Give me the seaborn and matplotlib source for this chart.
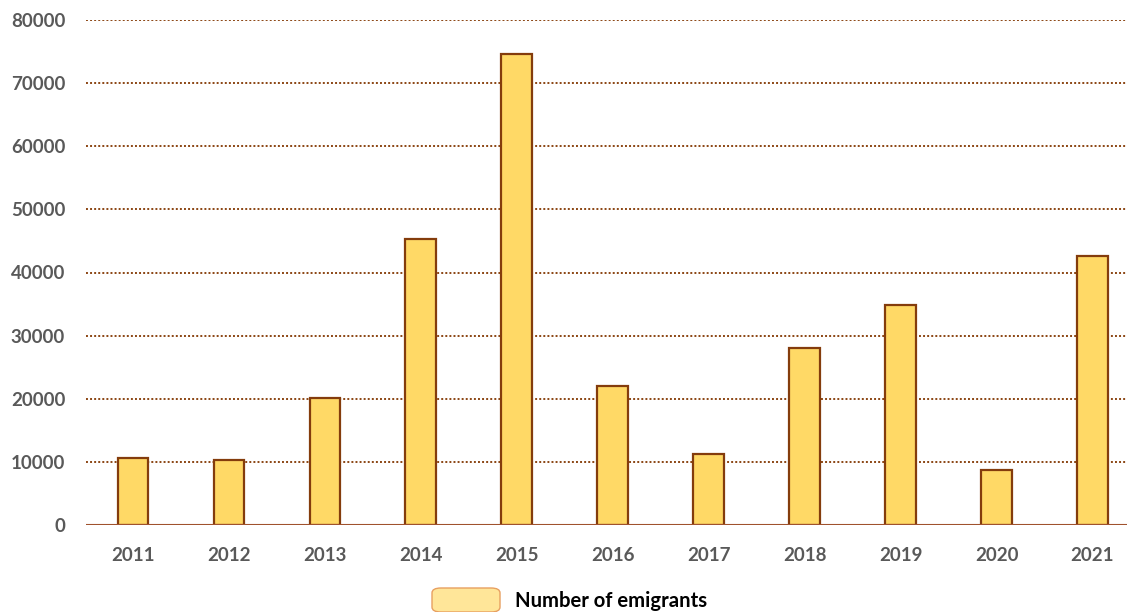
import matplotlib
matplotlib.use("Agg")
import matplotlib.pyplot as plt
import seaborn as sns
import pandas as pd
from matplotlib.patches import FancyBboxPatch

years = ["2011", "2012", "2013", "2014", "2015", "2016", "2017", "2018", "2019", "2020", "2021"]
emigrants = [10600, 10300, 20100, 45300, 74600, 22000, 11250, 28000, 34850, 8700, 42600]
yticks = [0, 10000, 20000, 30000, 40000, 50000, 60000, 70000, 80000]
series_name = "Number of emigrants"

sns.set_theme(style="white")
plt.rcParams['font.family'] = ['Lato', 'DejaVu Sans']

W, H = 1127, 612
fig = plt.figure(figsize=(W / 100, H / 100), dpi=100)
ax = fig.add_axes([86 / W, 1 - 525 / H, (W - 86) / W, (525 - 20) / H])

df = pd.DataFrame({"year": years, "value": emigrants})
sns.barplot(data=df, x="year", y="value", ax=ax, color="#FFD966", width=0.32,
            edgecolor="#843C0C", linewidth=1.6, saturation=1, zorder=3)

ax.set_ylim(0, 80000)
ax.set_xlim(-0.49, 10.36)
ax.set_yticks(yticks)
ax.set_yticklabels([str(v) for v in yticks])
for v in yticks[1:]:
    ax.axhline(v, color="#8B4513", linestyle=(0, (1, 1.1)), linewidth=1.4, zorder=1)
ax.axhline(0, color="#A0522D", linewidth=1.5, zorder=4)

for s in ax.spines.values():
    s.set_visible(False)
ax.set_xlabel("")
ax.set_ylabel("")
ax.tick_params(axis="both", length=0, labelsize=13.5, colors="#595959")
ax.tick_params(axis="y", pad=15)
ax.tick_params(axis="x", pad=16)
for lab in ax.get_xticklabels() + ax.get_yticklabels():
    lab.set_fontweight("bold")

# legend
patch = FancyBboxPatch((432 / W, 1 - 612 / H), 68 / W, 24 / H,
                       boxstyle="round,pad=0,rounding_size=0.008",
                       transform=fig.transFigure, facecolor="#FFE699",
                       edgecolor="#E8A060", linewidth=1.0, clip_on=False)
fig.patches.append(patch)
fig.text(515 / W, 1 - 601 / H, series_name, fontsize=14.6, fontweight="bold",
         color="black", va="center", ha="left")

fig.savefig("out.png", dpi=100)
